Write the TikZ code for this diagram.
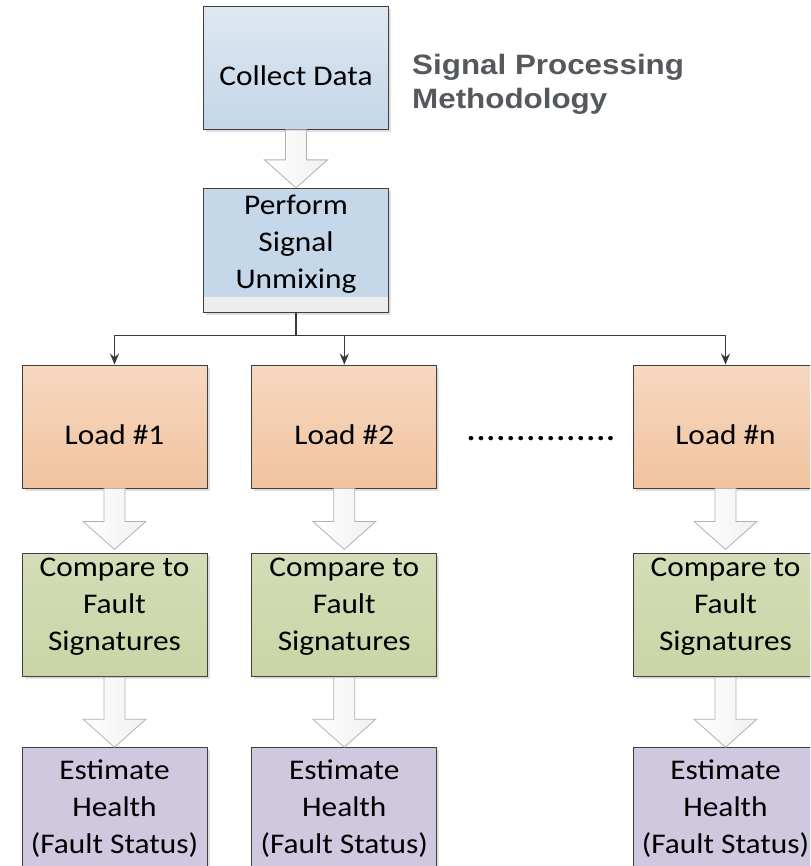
\documentclass[tikz,border=0pt]{standalone}
\usepackage{fontspec}
\setmainfont[FakeStretch=1.1]{Carlito}
\newfontfamily\titlefont[FakeStretch=1.12]{Liberation Sans}
\usetikzlibrary{arrows,arrows.meta,calc,fit,positioning,shadows}
\definecolor{boxline}{HTML}{3F3F3F}
\definecolor{wirecol}{HTML}{3A3A3A}
\definecolor{titlegray}{HTML}{55595E}
\definecolor{blueTop}{HTML}{DFE8F1}
\definecolor{blueBot}{HTML}{C3D6E8}
\definecolor{blueFlat}{HTML}{C5D8EA}
\definecolor{stripgray}{HTML}{EDEDED}
\definecolor{loadTop}{HTML}{F6D8C0}
\definecolor{loadBot}{HTML}{F1C39F}
\definecolor{cmpTop}{HTML}{D4DDB7}
\definecolor{cmpBot}{HTML}{C9D5A6}
\definecolor{estFill}{HTML}{CFC8DE}
\newcommand{\blkfont}{\fontsize{28.5}{37}\selectfont}
\tikzset{
    %Define standard arrow tip
    >={Stealth[length=11pt,width=9pt]},
    %Define style for boxes
    box/.style={
           rectangle,
           draw=boxline, line width=0.8pt,
           minimum width=185pt,
           minimum height=123pt,
           inner sep=0pt,
           font=\blkfont,
           align=center,
           drop shadow={shadow xshift=2.5pt, shadow yshift=-2.5pt, opacity=0.25}},
    oneline/.style={text height=35pt, text depth=0pt},
    collect/.style={box, oneline, top color=blueTop, bottom color=blueBot},
    unmix/.style={box, text height=93pt, text depth=17pt, fill=blueFlat,
           path picture={\fill[stripgray] (path picture bounding box.south west)
             rectangle ([yshift=15pt]path picture bounding box.south east);}},
    load/.style={box, oneline, top color=loadTop, bottom color=loadBot},
    compare/.style={box, text height=93pt, text depth=22pt, top color=cmpTop, bottom color=cmpBot},
    estimate/.style={box, text height=93pt, text depth=4pt, fill=estFill},
    headline/.style={font=\titlefont\bfseries\fontsize{28}{34}\selectfont,
           text=titlegray, align=left, inner sep=0pt},
    dotsrow/.style={font=\fontsize{36}{40}\selectfont, inner sep=0pt},
    % Define arrow styles
    wire/.style={draw=wirecol, line width=1.4pt},
    tip/.style={-{Stealth[length=11pt,width=9pt]}},
    fatarr/.style={draw=gray!60, line width=0.8pt, left color=white, right color=gray!12}
}
% block arrow from the bottom of #2 to the top of #3, tip #1 above it
\newcommand{\fatarrow}[3][0pt]{%
  \draw[fatarr] let \p1=(#2.south), \p2=([yshift=#1]#3.north) in
    (\x1-10.5pt,\y1) -- (\x1+10.5pt,\y1) -- (\x1+10.5pt,\y2+28pt)
    -- (\x1+31.5pt,\y2+28pt) -- (\x1,\y2) -- (\x1-31.5pt,\y2+28pt)
    -- (\x1-10.5pt,\y2+28pt) -- cycle;}
\begin{document}
\begin{tikzpicture}[x=1pt,y=-1pt]
\clip (0,0) rectangle (810,866);

 %nodes
\node[collect](collect) at (296,68){Collect Data};
\node[unmix, minimum height=124pt, below=58pt of collect](unmix){Perform\\Signal\\Unmixing};
\node[headline, anchor=base west](title) at (412,109){Signal Processing\\Methodology};

\node[load](l1) at (114.5,426.5){Load \#1};
\node[load, right=44pt of l1](l2){Load \#2};
\node[load](ln) at (725.5,426.5){Load \#n};
\node[dotsrow, anchor=base](dots) at (541,440){...............};

\node[compare, below=65pt of l1](c1){Compare to\\Fault\\Signatures};
\node[compare, below=65pt of l2](c2){Compare to\\Fault\\Signatures};
\node[compare, below=65pt of ln](cn){Compare to\\Fault\\Signatures};

\node[estimate, below=70pt of c1](e1){Estimate\\Health\\(Fault Status)};
\node[estimate, below=70pt of c2](e2){Estimate\\Health\\(Fault Status)};
\node[estimate, below=70pt of cn](en){Estimate\\Health\\(Fault Status)};

 %connectors
\coordinate[below=23pt of unmix.south](bus);
\draw[wire] (unmix.south) -- (bus);
\draw[wire,tip] (bus) -| (l1.north);
\draw[wire,tip] (bus) -| (l2.north);
\draw[wire,tip] (bus) -| (ln.north);

\fatarrow{collect}{unmix}
\fatarrow[4pt]{l1}{c1}
\fatarrow[4pt]{l2}{c2}
\fatarrow[4pt]{ln}{cn}
\fatarrow{c1}{e1}
\fatarrow{c2}{e2}
\fatarrow{cn}{en}

\end{tikzpicture}
\end{document}
